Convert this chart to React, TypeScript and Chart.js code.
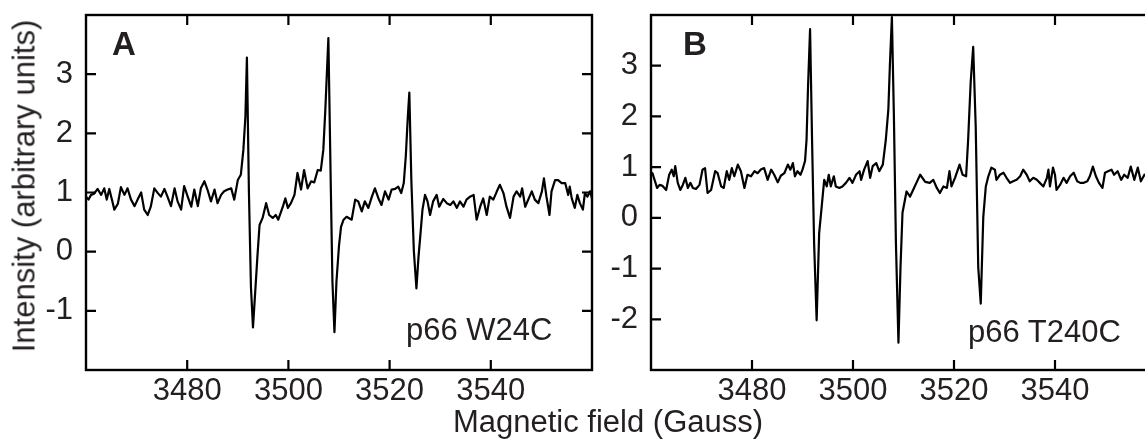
import React, { useEffect, useRef } from "react";
import { Chart, registerables } from "chart.js";

Chart.register(...registerables);

const FONT = '"Liberation Sans", Arial, Helvetica, sans-serif';
const TEXT = "#231f20";

const xTicks = [3480, 3500, 3520, 3540];
const yTicksA = [-1, 0, 1, 2, 3];
const yTicksB = [-2, -1, 0, 1, 2, 3];

const xTitle = "Magnetic field (Gauss)";
const yTitle = "Intensity (arbitrary units)";
const panelLabelA = "A";
const panelLabelB = "B";
const sampleA = "p66 W24C";
const sampleB = "p66 T240C";

const fieldA = [
  3460.0, 3460.5, 3461.0, 3461.6, 3462.3, 3463.0, 3463.6, 3464.1, 3464.6, 3465.3,
  3465.6, 3466.3, 3466.9, 3467.6, 3468.2, 3468.9, 3469.6, 3470.2, 3470.9, 3471.5,
  3472.2, 3472.8, 3473.5, 3474.2, 3474.8, 3475.5, 3476.1, 3476.8, 3477.5, 3478.1,
  3478.8, 3479.4, 3480.1, 3480.8, 3481.4, 3482.1, 3482.7, 3483.4, 3484.0, 3484.7,
  3485.4, 3486.0, 3486.7, 3487.3, 3488.0, 3488.7, 3489.3, 3490.0, 3490.6, 3491.1,
  3491.5, 3491.8, 3492.2, 3492.6, 3493.0, 3493.5, 3493.9, 3494.3, 3494.9, 3495.6,
  3496.2, 3496.9, 3497.5, 3498.0, 3498.9, 3499.4, 3499.9, 3500.5, 3501.2, 3501.8,
  3502.5, 3503.1, 3503.8, 3504.5, 3505.1, 3505.8, 3506.4, 3506.9, 3507.3, 3507.9,
  3508.4, 3508.7, 3509.1, 3509.5, 3510.0, 3510.4, 3510.9, 3511.5, 3512.5, 3513.2,
  3513.8, 3514.5, 3515.1, 3515.8, 3516.5, 3517.1, 3517.8, 3518.4, 3519.1, 3519.8,
  3520.4, 3521.1, 3521.7, 3522.3, 3522.8, 3523.2, 3523.6, 3523.9, 3524.3, 3524.8,
  3525.3, 3525.7, 3526.0, 3526.5, 3527.0, 3527.5, 3528.0, 3528.6, 3529.3, 3529.8,
  3530.6, 3531.3, 3532.0, 3532.6, 3533.3, 3533.9, 3534.6, 3535.2, 3535.9, 3536.6,
  3537.2, 3537.9, 3538.5, 3539.2, 3539.8, 3540.5, 3541.2, 3541.8, 3542.5, 3543.1,
  3543.8, 3544.5, 3545.1, 3545.8, 3546.2, 3546.8, 3547.4, 3548.1, 3548.7, 3549.4,
  3550.1, 3550.5, 3551.0, 3551.6, 3552.0, 3552.7, 3553.3, 3554.0, 3554.7, 3555.3,
  3555.6, 3556.0, 3556.6, 3557.1, 3557.6, 3558.2, 3558.6, 3559.1, 3559.6, 3560.0,
];

const intensityA = [
  0.93, 0.88, 0.96, 0.98, 1.06, 0.96, 1.07, 0.88, 1.06, 0.82,
  0.71, 0.81, 1.09, 0.96, 1.07, 0.88, 0.77, 0.88, 1.0, 0.71,
  0.62, 0.76, 1.07, 0.99, 0.93, 1.06, 0.93, 0.77, 1.07, 0.85,
  0.71, 1.11, 0.93, 0.76, 1.05, 0.77, 1.07, 1.19, 1.05, 0.85,
  1.05, 0.82, 0.96, 1.02, 1.05, 1.07, 0.88, 1.21, 1.3, 1.72,
  2.28, 3.28, 1.0, -0.6, -1.28, -0.6, -0.05, 0.45, 0.57, 0.82,
  0.62, 0.57, 0.62, 0.54, 0.76, 0.9, 0.74, 0.82, 0.96, 1.33,
  1.05, 1.38, 1.07, 1.19, 1.17, 1.38, 1.37, 1.72, 2.4, 3.61,
  1.0, -0.5, -1.36, -0.5, 0.1, 0.42, 0.54, 0.59, 0.54, 0.88,
  0.85, 0.68, 0.85, 0.74, 0.93, 1.07, 0.9, 0.79, 1.02, 0.88,
  1.05, 1.06, 1.1, 0.99, 1.16, 1.61, 2.28, 2.69, 1.2, 0.0,
  -0.62, -0.1, 0.2, 0.71, 0.96, 0.85, 0.62, 0.85, 0.96, 0.76,
  0.89, 0.82, 0.79, 0.85, 0.74, 0.85, 0.76, 0.88, 0.93, 0.96,
  0.54, 0.76, 0.9, 0.62, 0.93, 0.88, 1.02, 1.13, 0.99, 0.76,
  0.57, 0.93, 1.02, 0.93, 1.07, 0.76, 0.88, 1.02, 0.88, 0.82,
  1.02, 1.24, 0.93, 0.62, 1.02, 1.21, 1.21, 1.16, 1.16, 0.96,
  1.1, 0.9, 0.74, 0.96, 0.82, 0.71, 0.99, 0.93, 1.02, 0.9,
];

const fieldB = [
  3460.0, 3460.3, 3460.8, 3461.2, 3461.7, 3462.3, 3463.0, 3463.6, 3464.1, 3464.5,
  3464.8, 3465.3, 3465.8, 3466.3, 3466.8, 3467.3, 3467.8, 3468.3, 3468.9, 3469.6,
  3470.2, 3470.7, 3471.2, 3471.9, 3472.7, 3473.2, 3473.9, 3474.4, 3475.0, 3475.5,
  3476.0, 3476.5, 3477.2, 3477.8, 3478.5, 3479.1, 3479.8, 3480.5, 3481.1, 3481.8,
  3482.4, 3483.1, 3483.8, 3484.4, 3485.1, 3485.7, 3486.4, 3487.1, 3487.6, 3488.1,
  3488.5, 3489.0, 3489.6, 3490.0, 3490.5, 3490.8, 3491.1, 3491.5, 3491.9, 3492.3,
  3492.8, 3493.3, 3493.8, 3494.3, 3494.8, 3495.2, 3495.6, 3496.2, 3496.6, 3497.3,
  3497.9, 3498.6, 3499.3, 3499.9, 3500.6, 3501.3, 3501.6, 3502.2, 3502.9, 3503.4,
  3503.9, 3504.6, 3505.2, 3505.9, 3506.5, 3507.0, 3507.3, 3507.7, 3508.1, 3508.5,
  3509.0, 3509.4, 3509.8, 3510.6, 3511.3, 3511.9, 3512.6, 3513.3, 3514.3, 3515.2,
  3515.9, 3516.6, 3517.2, 3517.9, 3518.6, 3519.1, 3519.5, 3520.2, 3521.1, 3521.7,
  3522.4, 3522.8, 3523.3, 3523.8, 3524.3, 3524.8, 3525.3, 3525.8, 3526.3, 3526.8,
  3527.4, 3528.1, 3528.4, 3529.1, 3529.8, 3530.4, 3531.1, 3531.7, 3532.4, 3533.1,
  3533.7, 3534.4, 3535.0, 3535.7, 3536.4, 3537.0, 3537.7, 3538.4, 3538.7, 3539.0,
  3539.6, 3540.0, 3540.3, 3541.0, 3541.7, 3542.3, 3543.0, 3543.7, 3544.4, 3545.0,
  3545.7, 3546.4, 3546.9, 3547.5, 3548.1, 3548.7, 3549.4, 3549.9, 3550.5, 3551.2,
  3551.7, 3552.4, 3553.1, 3553.7, 3554.4, 3555.0, 3555.7, 3556.4, 3557.0, 3557.7,
  3558.5, 3559.2, 3560.0,
];

const intensityB = [
  0.85, 0.88, 0.72, 0.59, 0.65, 0.63, 0.55, 0.85, 0.95, 0.82,
  1.02, 0.69, 0.55, 0.65, 0.79, 0.59, 0.69, 0.59, 0.57, 0.65,
  0.95, 0.98, 0.49, 0.55, 0.92, 0.88, 0.62, 0.59, 0.92, 0.75,
  0.98, 0.82, 1.05, 0.92, 0.59, 0.85, 0.82, 0.92, 0.88, 0.96,
  0.98, 0.75, 0.95, 0.85, 0.7, 0.83, 0.88, 1.05, 0.95, 1.08,
  0.82, 0.92, 0.85, 0.95, 1.12, 1.54, 2.6, 3.72, 1.5, -0.5,
  -2.02, -0.3, 0.22, 0.75, 0.62, 0.85, 0.62, 0.82, 0.62, 0.59,
  0.62, 0.69, 0.79, 0.69, 0.85, 0.92, 0.75, 0.95, 1.12, 0.79,
  1.02, 1.08, 0.92, 1.05, 1.54, 2.14, 3.0, 3.96, 2.0, -0.5,
  -2.46, -1.0, 0.1, 0.52, 0.42, 0.55, 0.7, 0.85, 0.71, 0.69,
  0.75, 0.59, 0.49, 0.62, 0.59, 0.92, 0.62, 0.79, 1.05, 0.85,
  0.82, 1.54, 2.67, 3.37, 1.8, -0.97, -1.69, 0.02, 0.62, 0.82,
  0.99, 0.95, 0.75, 0.85, 0.89, 0.79, 0.69, 0.72, 0.75, 0.82,
  0.95, 0.85, 0.72, 0.79, 0.75, 0.69, 0.62, 0.79, 0.95, 0.62,
  0.99, 0.85, 0.55, 0.65, 0.79, 0.69, 0.82, 0.89, 0.72, 0.69,
  0.69, 0.72, 0.82, 1.01, 0.82, 0.69, 0.59, 0.89, 0.92, 0.95,
  0.85, 0.92, 0.75, 0.85, 0.79, 1.01, 0.75, 0.99, 0.72, 0.85,
  0.8, 0.9, 0.78,
];

const framePlugin = {
  id: "frameInward",
  afterDatasetsDraw(chart: any) {
    const { ctx, chartArea } = chart;
    const { left, right, top, bottom } = chartArea;
    const xs = chart.scales.x;
    const ys = chart.scales.y;
    const tl = 10;
    ctx.save();
    ctx.strokeStyle = "#000";
    ctx.lineWidth = 2.4;
    ctx.lineCap = "square";
    ctx.strokeRect(left, top, right - left, bottom - top);
    ctx.beginPath();
    ctx.lineCap = "butt";
    ctx.lineWidth = 2.2;
    xs.ticks.forEach((t: any) => {
      const px = xs.getPixelForValue(t.value);
      ctx.moveTo(px, bottom);
      ctx.lineTo(px, bottom - tl);
      ctx.moveTo(px, top);
      ctx.lineTo(px, top + tl);
    });
    ys.ticks.forEach((t: any) => {
      const py = ys.getPixelForValue(t.value);
      ctx.moveTo(left, py);
      ctx.lineTo(left + tl, py);
      ctx.moveTo(right, py);
      ctx.lineTo(right - tl, py);
    });
    ctx.stroke();
    ctx.restore();
  },
};

type PanelProps = {
  field: number[];
  values: number[];
  yMin: number;
  yMax: number;
  yTicks: number[];
  canvasLeft: number;
  width: number;
  yAxisWidth: number;
  rightPad: number;
};

function Panel(props: PanelProps) {
  const ref = useRef<HTMLCanvasElement | null>(null);
  useEffect(() => {
    const { field, values, yMin, yMax, yTicks, yAxisWidth, rightPad } = props;
    const chart = new Chart(ref.current as HTMLCanvasElement, {
      type: "line",
      data: {
        datasets: [
          {
            data: field.map((f, i) => ({ x: f, y: values[i] })),
            borderColor: "#000",
            borderWidth: 2.2,
            borderJoinStyle: "round",
            pointRadius: 0,
            tension: 0,
            fill: false,
          },
        ],
      },
      options: {
        animation: false,
        responsive: false,
        devicePixelRatio: 1,
        events: [],
        layout: { padding: { left: 0, right: rightPad, top: 15, bottom: 0 } },
        plugins: { legend: { display: false }, tooltip: { enabled: false } },
        scales: {
          x: {
            type: "linear",
            min: 3460,
            max: 3560,
            grid: { display: false, drawTicks: false },
            border: { display: false },
            afterBuildTicks: (s: any) => {
              s.ticks = xTicks.map((v) => ({ value: v }));
            },
            afterFit: (s: any) => {
              s.height = 72;
              s.paddingLeft = 0;
              s.paddingRight = 0;
            },
            ticks: {
              color: TEXT,
              font: { family: FONT, size: 31 },
              padding: 3,
              maxRotation: 0,
              autoSkip: false,
              callback: (v: any) => String(v),
            },
          },
          y: {
            type: "linear",
            min: yMin,
            max: yMax,
            grid: { display: false, drawTicks: false },
            border: { display: false },
            afterBuildTicks: (s: any) => {
              s.ticks = yTicks.map((v) => ({ value: v }));
            },
            afterFit: (s: any) => {
              s.width = yAxisWidth;
              s.paddingTop = 0;
              s.paddingBottom = 0;
            },
            ticks: {
              color: TEXT,
              font: { family: FONT, size: 31 },
              padding: 13,
              autoSkip: false,
              callback: (v: any) => String(v),
            },
          },
        },
      },
      plugins: [framePlugin],
    } as any);
    return () => chart.destroy();
  }, []);
  return (
    <canvas
      ref={ref}
      width={props.width}
      height={442}
      style={{ position: "absolute", left: props.canvasLeft, top: 0, width: props.width, height: 442 }}
    />
  );
}

const textBase: React.CSSProperties = {
  position: "absolute",
  fontFamily: FONT,
  fontSize: 31,
  lineHeight: 1,
  color: TEXT,
  whiteSpace: "nowrap",
};

export default function App() {
  return (
    <div
      style={{
        position: "fixed",
        left: 0,
        top: 0,
        width: 1145,
        height: 442,
        overflow: "hidden",
        background: "#fff",
      }}
    >
      <Panel field={fieldA} values={intensityA} yMin={-2} yMax={4} yTicks={yTicksA} canvasLeft={0} width={600} yAxisWidth={86} rightPad={8} />
      <Panel field={fieldB} values={intensityB} yMin={-3} yMax={4} yTicks={yTicksB} canvasLeft={600} width={556} yAxisWidth={51} rightPad={0} />
      <div
        style={{
          ...textBase,
          left: 24.3,
          top: 186,
          transform: "translate(-50%, -50%) rotate(-90deg)",
        }}
      >
        {yTitle}
      </div>
      <div style={{ ...textBase, left: 608, top: 405.5, transform: "translateX(-50%)" }}>{xTitle}</div>
      <div style={{ ...textBase, left: 112, top: 27, fontSize: 33, fontWeight: "bold" }}>{panelLabelA}</div>
      <div style={{ ...textBase, left: 683, top: 27, fontSize: 33, fontWeight: "bold" }}>{panelLabelB}</div>
      <div style={{ ...textBase, left: 406, top: 313.5 }}>{sampleA}</div>
      <div style={{ ...textBase, left: 968, top: 316 }}>{sampleB}</div>
    </div>
  );
}
